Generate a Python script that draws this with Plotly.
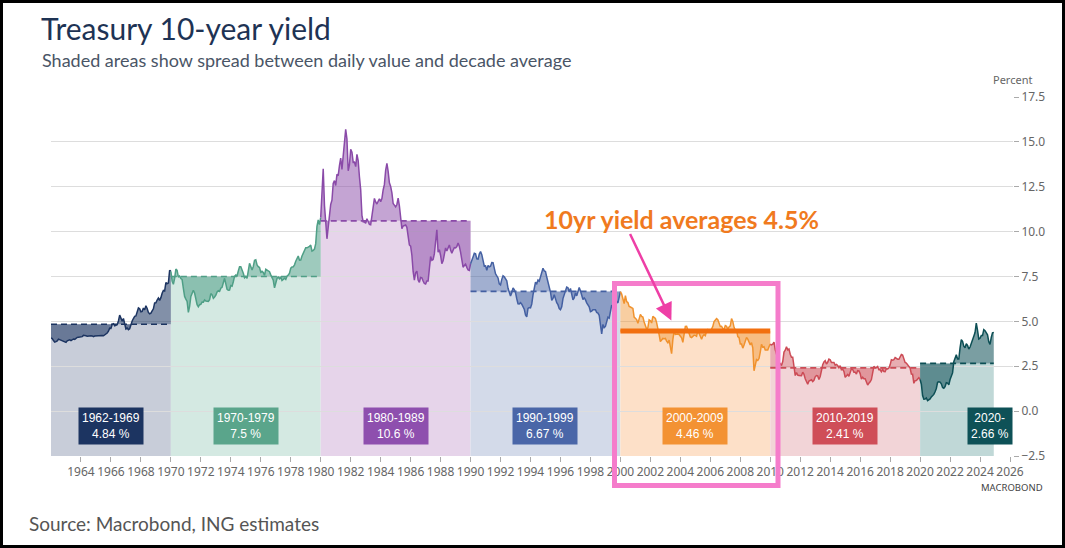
import plotly.graph_objects as go

# ---------------- data ----------------
decade_labels = ["1962-1969", "1970-1979", "1980-1989", "1990-1999", "2000-2009", "2010-2019", "2020-"]
decade_avg = [4.84, 7.5, 10.6, 6.67, 4.46, 2.41, 2.66]
decade_avg_text = ["4.84 %", "7.5 %", "10.6 %", "6.67 %", "4.46 %", "2.41 %", "2.66 %"]
decade_start = [1962, 1970, 1980, 1990, 2000, 2010, 2020]
label_x = [1966, 1975, 1985, 1995, 2005, 2015, 2024.67]

# monthly 10-year yields (percent)
y1960s = [4.08, 4.04, 3.93, 3.84, 3.87, 3.91, 4.01, 3.98, 3.98, 3.93, 3.92, 3.86,
          3.83, 3.92, 3.93, 3.97, 3.93, 3.99, 4.02, 4.00, 4.08, 4.11, 4.12, 4.13,
          4.17, 4.15, 4.22, 4.23, 4.20, 4.17, 4.19, 4.19, 4.20, 4.19, 4.15, 4.18,
          4.19, 4.21, 4.21, 4.20, 4.21, 4.21, 4.20, 4.25, 4.29, 4.35, 4.45, 4.62,
          4.61, 4.83, 4.87, 4.75, 4.78, 4.81, 5.02, 5.35, 5.18, 5.01, 5.16, 4.84,
          4.58, 4.63, 4.54, 4.59, 4.85, 5.02, 5.16, 5.28, 5.30, 5.48, 5.75, 5.70,
          5.53, 5.56, 5.74, 5.64, 5.87, 5.72, 5.50, 5.42, 5.46, 5.58, 5.70, 6.03,
          6.04, 6.19, 6.30, 6.17, 6.32, 6.57, 6.72, 6.69, 7.16, 7.10, 7.14, 7.85]
y1970s = [7.79, 7.24, 7.07, 7.39, 7.91, 7.84, 7.46, 7.53, 7.39, 7.33, 6.84, 6.39,
          6.24, 6.11, 5.50, 5.83, 6.39, 6.52, 6.73, 6.58, 6.14, 5.93, 5.81, 5.93,
          5.95, 6.08, 6.07, 6.19, 6.13, 6.11, 6.11, 6.21, 6.55, 6.48, 6.28, 6.36,
          6.46, 6.64, 6.71, 6.67, 6.85, 6.90, 7.13, 7.40, 7.09, 6.79, 6.73, 6.74,
          6.99, 6.96, 7.21, 7.51, 7.58, 7.54, 7.81, 8.04, 8.04, 7.90, 7.68, 7.43,
          7.50, 7.39, 7.73, 8.23, 8.06, 7.86, 8.06, 8.40, 8.43, 8.14, 8.05, 8.00,
          7.74, 7.79, 7.73, 7.56, 7.90, 7.86, 7.83, 7.77, 7.59, 7.41, 7.29, 6.87,
          7.21, 7.39, 7.46, 7.37, 7.46, 7.28, 7.33, 7.40, 7.34, 7.52, 7.58, 7.69,
          7.96, 8.03, 8.04, 8.15, 8.35, 8.46, 8.64, 8.41, 8.42, 8.64, 8.81, 9.01,
          9.10, 9.10, 9.12, 9.18, 9.25, 8.91, 8.95, 9.03, 9.33, 10.30, 10.65, 10.39]
y1980s = [10.80, 12.60, 13.50, 11.47, 10.18, 9.60, 10.25, 11.10, 11.51, 11.75, 12.68, 12.84,
          12.57, 13.19, 13.12, 13.68, 14.10, 13.47, 14.28, 14.94, 15.70, 15.15, 13.39, 13.72,
          14.59, 14.43, 13.86, 13.87, 13.62, 14.30, 13.95, 13.06, 12.34, 10.91, 10.55, 10.54,
          10.46, 10.72, 10.51, 10.40, 10.38, 10.85, 11.38, 11.85, 11.65, 11.54, 11.69, 11.83,
          11.67, 11.84, 12.32, 12.63, 13.41, 13.80, 13.36, 12.72, 12.52, 12.16, 11.57, 11.50,
          11.38, 11.51, 11.86, 11.43, 10.85, 10.16, 10.31, 10.33, 10.37, 10.24, 9.78, 9.26,
          9.19, 8.70, 7.78, 7.30, 7.71, 7.80, 7.30, 7.17, 7.45, 7.43, 7.25, 7.11,
          7.08, 7.25, 7.25, 8.02, 8.61, 8.40, 8.45, 8.76, 9.42, 10.10, 8.86, 8.99,
          8.67, 8.21, 8.37, 8.72, 9.09, 8.92, 9.06, 9.26, 8.98, 8.80, 8.96, 9.11,
          9.09, 9.17, 9.36, 9.18, 8.86, 8.28, 8.02, 8.11, 8.19, 8.01, 7.87, 7.84]
y1990s = [8.21, 8.47, 8.59, 8.79, 8.76, 8.48, 8.47, 8.75, 8.89, 8.72, 8.39, 8.08,
          8.09, 7.85, 8.11, 8.04, 8.07, 8.28, 8.27, 7.90, 7.65, 7.53, 7.42, 7.09,
          7.03, 7.34, 7.54, 7.48, 7.39, 7.26, 6.84, 6.59, 6.42, 6.59, 6.87, 6.77,
          6.60, 6.26, 5.98, 5.97, 6.04, 5.96, 5.81, 5.68, 5.36, 5.25, 5.72, 5.77,
          5.75, 5.97, 6.48, 6.97, 7.18, 7.10, 7.30, 7.24, 7.46, 7.74, 7.96, 7.81,
          7.78, 7.47, 7.20, 7.06, 6.63, 6.17, 6.28, 6.49, 6.20, 6.04, 5.93, 5.71,
          5.65, 5.81, 6.27, 6.51, 6.74, 6.91, 6.87, 6.64, 6.83, 6.53, 6.20, 6.30,
          6.58, 6.42, 6.69, 6.89, 6.71, 6.49, 6.22, 6.30, 6.21, 6.03, 5.88, 5.81,
          5.54, 5.57, 5.65, 5.64, 5.65, 5.50, 5.46, 5.34, 4.81, 4.30, 4.83, 4.65,
          4.72, 5.00, 5.23, 5.18, 5.54, 5.90, 5.79, 5.94, 5.92, 6.11, 6.03, 6.28]
y2000s = [6.66, 6.52, 6.26, 5.99, 6.44, 6.10, 6.05, 5.83, 5.80, 5.74, 5.72, 5.24,
          5.16, 5.10, 4.89, 5.14, 5.39, 5.28, 5.24, 4.97, 4.73, 4.57, 4.65, 5.09,
          5.04, 4.91, 5.28, 5.21, 5.16, 4.93, 4.65, 4.26, 3.87, 3.94, 4.05, 4.03,
          4.05, 3.90, 3.81, 3.96, 3.57, 3.20, 3.98, 4.45, 4.27, 4.29, 4.30, 4.27,
          4.15, 4.08, 3.83, 4.35, 4.72, 4.73, 4.50, 4.28, 4.13, 4.10, 4.19, 4.23,
          4.22, 4.17, 4.50, 4.34, 4.14, 4.00, 4.18, 4.26, 4.20, 4.46, 4.54, 4.47,
          4.42, 4.57, 4.72, 4.99, 5.11, 5.15, 5.09, 4.88, 4.72, 4.73, 4.60, 4.56,
          4.76, 4.72, 4.56, 4.69, 4.75, 5.15, 5.00, 4.67, 4.52, 4.53, 4.15, 4.10,
          3.74, 3.74, 3.51, 3.68, 3.88, 4.10, 4.01, 3.89, 3.69, 3.81, 3.53, 2.25,
          2.52, 2.87, 2.82, 2.93, 3.29, 3.72, 3.56, 3.59, 3.40, 3.39, 3.40, 3.59]
y2010s = [3.73, 3.69, 3.73, 3.85, 3.42, 3.20, 3.01, 2.70, 2.65, 2.54, 2.76, 3.29,
          3.39, 3.58, 3.41, 3.46, 3.17, 3.00, 3.00, 2.30, 1.98, 2.15, 2.01, 1.98,
          1.97, 1.97, 2.17, 2.05, 1.80, 1.62, 1.50, 1.68, 1.72, 1.75, 1.65, 1.72,
          1.91, 1.98, 1.96, 1.76, 1.93, 2.30, 2.58, 2.74, 2.81, 2.62, 2.72, 2.90,
          2.86, 2.71, 2.72, 2.71, 2.56, 2.60, 2.54, 2.42, 2.53, 2.30, 2.33, 2.21,
          1.88, 1.98, 2.04, 1.94, 2.20, 2.36, 2.32, 2.17, 2.17, 2.07, 2.26, 2.24,
          2.09, 1.78, 1.89, 1.81, 1.81, 1.64, 1.45, 1.56, 1.63, 1.76, 2.14, 2.49,
          2.43, 2.42, 2.48, 2.30, 2.30, 2.19, 2.32, 2.21, 2.20, 2.36, 2.35, 2.40,
          2.58, 2.86, 2.84, 2.87, 2.98, 2.91, 2.89, 2.89, 3.00, 3.15, 3.12, 2.83,
          2.71, 2.68, 2.57, 2.53, 2.40, 2.07, 2.06, 1.55, 1.70, 1.71, 1.81, 1.86]
y2020s = [1.76, 1.50, 0.87, 0.66, 0.67, 0.73, 0.58, 0.62, 0.68, 0.79, 0.87, 0.93,
          1.08, 1.26, 1.61, 1.64, 1.62, 1.52, 1.32, 1.28, 1.37, 1.58, 1.56, 1.47,
          1.76, 1.93, 2.13, 2.75, 2.90, 3.14, 2.90, 2.90, 3.52, 3.98, 3.89, 3.62,
          3.53, 3.75, 3.66, 3.46, 3.57, 3.75, 3.90, 4.17, 4.38, 4.90, 4.50, 4.02,
          4.06, 4.21, 4.21, 4.54, 4.48, 4.31, 4.25, 3.87, 3.72, 4.10, 4.36, 4.39]
decade_values = [y1960s, y1970s, y1980s, y1990s, y2000s, y2010s, y2020s]

line_colors = ["#1c3461", "#4f9f86", "#8a4aa8", "#4460a2", "#f0922e", "#cc4b55", "#0d4f55"]
band_colors = ["#c8cdd9", "#d4e9e2", "#e6d4ea", "#d3dae9", "#fde0c8", "#f2d4d7", "#c0d8d7"]
spread_colors = ["rgba(28,52,97,0.55)", "rgba(79,159,134,0.55)", "rgba(138,74,168,0.5)",
                 "rgba(68,96,162,0.5)", "rgba(240,146,46,0.45)", "rgba(204,75,85,0.45)",
                 "rgba(13,79,85,0.55)"]
label_bg = ["#1c3461", "#5aa58b", "#8e4fae", "#4a66a8", "#f39233", "#cf4e58", "#0e5157"]

# ---------------- figure ----------------
W, H = 1065, 548
ML, MR, MT, MB = 51, 52, 97, 92
PW, PH = W - ML - MR, H - MT - MB


def px(xp):
    return (xp - ML) / PW


def py(yp):
    return (H - MB - yp) / PH


fig = go.Figure()
shapes = []
annotations = []

for i, vals in enumerate(decade_values):
    start = decade_start[i]
    xs = [start + k / 12 for k in range(len(vals))]
    ys = list(vals)
    if i + 1 < len(decade_values):
        xs.append(decade_start[i + 1])
        ys.append(decade_values[i + 1][0])
    end = xs[-1]
    avg = decade_avg[i]
    shapes.append(dict(type="rect", xref="x", yref="y", x0=start, x1=end, y0=-2.5, y1=avg,
                       fillcolor=band_colors[i], line=dict(width=0), layer="below"))
    fig.add_trace(go.Scatter(x=xs, y=[avg] * len(xs), mode="lines",
                             line=dict(width=0, color=line_colors[i]),
                             hoverinfo="skip", showlegend=False))
    fig.add_trace(go.Scatter(x=xs, y=ys, mode="lines", fill="tonexty",
                             fillcolor=spread_colors[i],
                             line=dict(width=1.5, color=line_colors[i]),
                             showlegend=False))
    fig.add_trace(go.Scatter(x=[start, end], y=[avg, avg], mode="lines",
                             line=dict(width=1.6, color=line_colors[i], dash="6px,4px"),
                             hoverinfo="skip", showlegend=False))
    annotations.append(dict(x=label_x[i], y=-0.85, xref="x", yref="y",
                            text=decade_labels[i] + "<br>" + decade_avg_text[i],
                            showarrow=False, bgcolor=label_bg[i], borderpad=3,
                            font=dict(family="Liberation Sans, Arial", size=12, color="white"),
                            align="center"))

# highlighted 2000s average
fig.add_trace(go.Scatter(x=[decade_start[4], decade_start[5]], y=[decade_avg[4], decade_avg[4]],
                         mode="lines", line=dict(width=5, color="#f26f0f"),
                         hoverinfo="skip", showlegend=False))

shapes.append(dict(type="rect", xref="paper", yref="paper",
                   x0=px(614.5), x1=px(778), y0=py(485.5), y1=py(283.5),
                   line=dict(color="#f57ccb", width=5), layer="above"))
shapes.append(dict(type="rect", xref="paper", yref="paper",
                   x0=px(1.5), x1=px(1063.5), y0=py(546.5), y1=py(1.5),
                   line=dict(color="black", width=3), layer="above"))

annotations += [
    dict(x=px(39), y=py(28), xref="paper", yref="paper", xanchor="left", yanchor="middle",
         text="Treasury 10-year yield", showarrow=False,
         font=dict(family="Lato", size=30, color="#1e3354")),
    dict(x=px(40), y=py(60), xref="paper", yref="paper", xanchor="left", yanchor="middle",
         text="Shaded areas show spread between daily value and decade average", showarrow=False,
         font=dict(family="Lato", size=18, color="#4a5566")),
    dict(x=px(27), y=py(523), xref="paper", yref="paper", xanchor="left", yanchor="middle",
         text="Source: Macrobond, ING estimates", showarrow=False,
         font=dict(family="Lato", size=19, color="#555555")),
    dict(x=px(1012), y=py(79), xref="paper", yref="paper", xanchor="center", yanchor="middle",
         text="Percent", showarrow=False,
         font=dict(family="Noto Sans", size=11, color="#666666")),
    dict(x=px(1012), y=py(487), xref="paper", yref="paper", xanchor="center", yanchor="middle",
         text="MACROBOND", showarrow=False,
         font=dict(family="Noto Sans", size=9.5, color="#444444")),
    dict(x=2004.1, y=10.72, xref="x", yref="y", text="<b>10yr yield averages 4.5%</b>",
         showarrow=False, font=dict(family="Lato", size=25, color="#f07a1e")),
    dict(x=2003.4, y=5.05, xref="x", yref="y", ax=-42, ay=-88, text="",
         showarrow=True, arrowhead=2, arrowsize=1.4, arrowwidth=2.5, arrowcolor="#ee3fa6"),
]

fig.update_layout(
    width=W, height=H, margin=dict(l=ML, r=MR, t=MT, b=MB),
    paper_bgcolor="white", plot_bgcolor="white",
    shapes=shapes, annotations=annotations, showlegend=False,
    xaxis=dict(range=[1962, 2026.2], tickvals=list(range(1964, 2027, 2)),
               ticks="outside", ticklen=5, tickcolor="#aaaaaa", showgrid=False,
               zeroline=False, showline=False,
               tickfont=dict(family="Noto Sans", size=12, color="#666666")),
    yaxis=dict(range=[-2.5, 17.5], side="right", tickvals=[-2.5, 0, 2.5, 5, 7.5, 10, 12.5, 15, 17.5],
               tickformat=".1f", ticks="outside", ticklen=5, tickcolor="#aaaaaa",
               showgrid=True, gridcolor="#dddddd", gridwidth=1, zeroline=False,
               tickfont=dict(family="Noto Sans", size=12, color="#666666")),
)

fig.write_html("out.html", config={"displayModeBar": False},
               post_script="document.body.style.margin='0';")
